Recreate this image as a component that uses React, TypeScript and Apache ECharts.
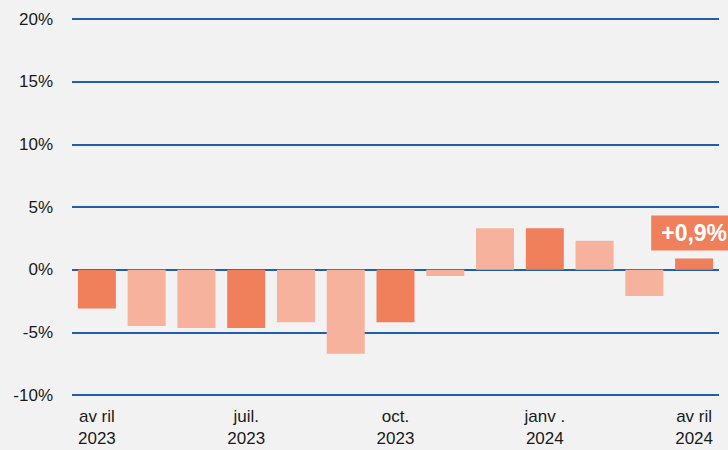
import React, { useEffect, useRef } from "react";
import * as echarts from "echarts";

const categories = [
  "avril 2023", "mai 2023", "juin 2023", "juil. 2023", "août 2023", "sept. 2023",
  "oct. 2023", "nov. 2023", "déc. 2023", "janv. 2024", "févr. 2024", "mars 2024", "avril 2024",
];
const tickLabels = [
  "av ril\n2023", "", "", "juil.\n2023", "", "", "oct.\n2023", "", "", "janv .\n2024", "", "", "av ril\n2024",
];
const values = [-3.1, -4.5, -4.65, -4.65, -4.2, -6.7, -4.2, -0.5, 3.3, 3.3, 2.3, -2.1, 0.9];
const highlighted = [true, false, false, true, false, false, true, false, false, true, false, false, true];
const lastLabel = "+0,9%";

const DARK = "#f07f5c";
const LIGHT = "#f6b29d";

export default function App() {
  const ref = useRef<HTMLDivElement>(null);
  useEffect(() => {
    document.body.style.margin = "0";
    const chart = echarts.init(ref.current!, null, { renderer: "svg" });
    const data = values.map((v, i) => {
      const item: any = {
        value: v,
        itemStyle: { color: highlighted[i] ? DARK : LIGHT },
      };
      if (i === values.length - 1) {
        item.label = {
          show: true,
          position: "top",
          distance: 8,
          formatter: lastLabel,
          color: "#ffffff",
          fontWeight: "bold",
          fontSize: 23,
          fontFamily: "Liberation Sans, Arial, sans-serif",
          backgroundColor: DARK,
          padding: [5, 10, 5, 10],
          lineHeight: 25,
        };
      }
      return item;
    });
    chart.setOption({
      animation: false,
      backgroundColor: "#f2f2f2",
      textStyle: { fontFamily: "Liberation Sans, Arial, sans-serif" },
      grid: { left: 72, right: 9, top: 19, bottom: 55, containLabel: false },
      xAxis: {
        type: "category",
        data: categories,
        axisLine: { show: false },
        axisTick: { show: false },
        axisLabel: {
          interval: 0,
          formatter: (_v: string, i: number) => tickLabels[i],
          fontSize: 17,
          color: "#1a1a1a",
          lineHeight: 22,
          margin: 10,
        },
      },
      yAxis: {
        type: "value",
        min: -10,
        max: 20,
        interval: 5,
        axisLine: { show: false },
        axisTick: { show: false },
        axisLabel: {
          formatter: (v: number) => `${v}%`,
          fontSize: 17,
          color: "#1a1a1a",
          margin: 19,
        },
        splitLine: { lineStyle: { color: "#1f5fae", width: 2 } },
      },
      series: [
        {
          type: "bar",
          data,
          barWidth: 38,
          label: { show: false },
        },
      ],
    });
    return () => chart.dispose();
  }, []);
  return <div ref={ref} style={{ width: 728, height: 450 }} />;
}
